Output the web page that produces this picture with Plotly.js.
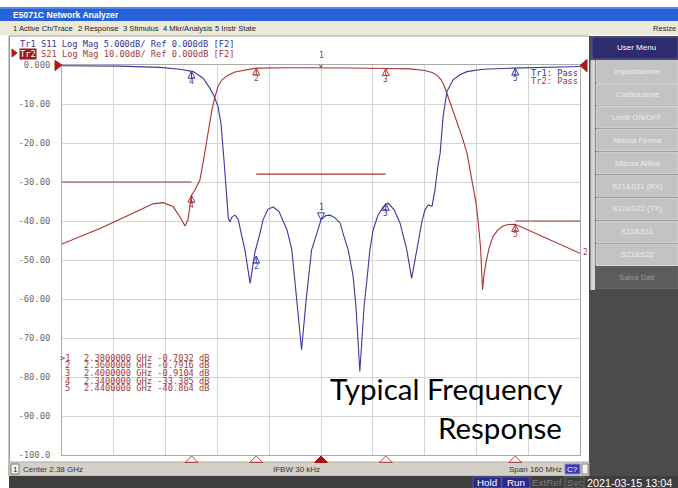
<!DOCTYPE html>
<html><head><meta charset="utf-8">
<script src="https://cdn.plot.ly/plotly-3.0.1.min.js"></script>
<style>html,body{margin:0;padding:0;background:#fff;overflow:hidden}#chart{width:678px;height:488px}</style>
</head><body><div id="chart"></div>
<script>
// ---------------- data ----------------
const freqS21 = [2.3000,2.3117,2.3219,2.3281,2.3312,2.3343,2.3364,2.3380,2.3389,2.3400,2.3411,2.3426,2.3439,2.3451,2.3463,2.3473,2.3482,2.3494,2.3513,2.3534,2.3571,2.3600,2.3704,2.3800,2.3890,2.4000,2.4075,2.4121,2.4143,2.4158,2.4171,2.4180,2.4192,2.4205,2.4220,2.4236,2.4251,2.4270,2.4279,2.4285,2.4293,2.4299,2.4303,2.4310,2.4319,2.4331,2.4347,2.4362,2.4378,2.4400,2.4600];
const s21dB   = [-45.9,-41.9,-38.0,-35.6,-35.3,-36.3,-38.9,-41.3,-39.7,-33.4,-32.0,-29.5,-23.5,-17.5,-11.5,-8.0,-5.5,-3.8,-2.6,-1.8,-1.2,-0.79,-0.72,-0.70,-0.76,-0.91,-1.0,-1.4,-1.9,-2.6,-3.8,-5.2,-8.0,-11.0,-14.5,-18.5,-22.6,-31.0,-35.5,-39.7,-47.0,-57.7,-54.0,-50.5,-47.0,-44.0,-42.2,-41.3,-40.9,-40.86,-48.3];
const freqS11 = [2.3000,2.3179,2.3303,2.3364,2.3405,2.3436,2.3457,2.3470,2.3482,2.3491,2.3500,2.3508,2.3514,2.3519,2.3525,2.3534,2.3544,2.3553,2.3565,2.3581,2.3596,2.3612,2.3621,2.3636,2.3652,2.3670,2.3695,2.3710,2.3725,2.3740,2.3754,2.3771,2.3788,2.3800,2.3815,2.3828,2.3843,2.3859,2.3871,2.3884,2.3899,2.3908,2.3920,2.3933,2.3942,2.3951,2.3961,2.3976,2.3992,2.4007,2.4025,2.4044,2.4065,2.4080,2.4096,2.4112,2.4121,2.4131,2.4143,2.4152,2.4161,2.4168,2.4177,2.4189,2.4208,2.4229,2.4251,2.4300,2.4393,2.4600];
const s11dB   = [-0.10,-0.15,-0.30,-0.55,-0.85,-1.7,-3.0,-4.0,-5.35,-7.5,-12.0,-16.5,-19.75,-20.1,-19.5,-19.25,-19.75,-21.5,-23.7,-28.0,-24.0,-21.5,-19.85,-18.5,-18.2,-18.75,-21.15,-23.7,-30.15,-36.5,-30.15,-23.7,-21.5,-19.85,-19.3,-19.25,-19.6,-20.25,-22.0,-23.7,-27.0,-31.0,-39.3,-31.0,-27.5,-23.7,-21.15,-19.25,-18.2,-17.7,-18.5,-20.25,-23.7,-27.35,-23.7,-20.0,-18.6,-17.95,-18.1,-16.0,-13.0,-11.3,-6.65,-3.4,-1.9,-1.25,-0.85,-0.55,-0.4,-0.2];
const markerIds   = ['1','2','3','4','5'];
const markerFreq  = [2.38,2.36,2.40,2.34,2.44];
const markerS21   = [-0.7032,-0.7916,-0.9104,-33.385,-40.864];
const markerS11   = [-19.85,-24.5,-17.75,-0.8,-0.4];
const limitStart  = [2.30,2.36,2.44];
const limitStop   = [2.34,2.40,2.46];
const limitLevel  = [-30,-28,-40];
const xGridVals   = [2.30,2.316,2.332,2.348,2.364,2.38,2.396,2.412,2.428,2.444,2.46];
const yTickVals   = [0,-10,-20,-30,-40,-50,-60,-70,-80,-90,-100];
const yTickText   = ['0.000','-10.00','-20.00','-30.00','-40.00','-50.00','-60.00','-70.00','-80.00','-90.00','-100.0'];
const menuItems   = ['1 Active Ch/Trace','2 Response','3 Stimulus','4 Mkr/Analysis','5 Instr State'];
const softKeys    = ['Impostazione','Calibrazione','Limiti ON/OFF','Misura Ferma','Misura Attiva','S21&amp;S11 (RX)','S12&amp;S22 (TX)','S12&amp;S11','S21&amp;S22','Salva Dati'];

// ---------------- styling / geometry ----------------
const RED='#a83434', BLUE='#3a3a9e', RTXT='#a33a3a', BTXT='#34349a';
const L=62, R=580, TOP=65, BOT=455;
const px = x => (x-L)/(R-L);
const py = y => (BOT-y)/(BOT-TOP);
const MONO='DejaVu Sans Mono', SANS='Liberation Sans';
const shapes=[], ann=[];
function rect(x0,y0,x1,y1,fill,lc,lw){shapes.push({type:'rect',xref:'paper',yref:'paper',x0:px(x0),x1:px(x1),y0:py(y1),y1:py(y0),fillcolor:fill,line:{color:lc||fill,width:lw||0},layer:'above'});}
function poly(pts,fill,lc){let d=pts.map((p,i)=>(i?'L':'M')+px(p[0])+','+py(p[1])).join(' ')+' Z';shapes.push({type:'path',xref:'paper',yref:'paper',path:d,fillcolor:fill,line:{color:lc||fill,width:1},layer:'above'});}
function txt(t,x,y,o){o=o||{};ann.push({xref:'paper',yref:'paper',x:px(x),y:py(y),text:t,showarrow:false,xanchor:o.xa||'left',yanchor:o.ya||'middle',borderpad:o.pad||0,bgcolor:o.bg||'rgba(0,0,0,0)',font:{family:o.family||SANS,size:o.size||8,color:o.color||'#000',weight:o.weight||'normal'}});}

// window chrome
rect(0,7,678,21,'#2762d6');
rect(0,7,678,9,'#4f86ee');
txt('E5071C Network Analyzer',12,14.5,{size:8.6,color:'#fff',weight:'bold'});
rect(0,21,678,35,'#ece9d8');
const menuX=[12,77,122,162,214];
menuItems.forEach((m,i)=>txt(m,menuX[i],28.5,{size:7.6,color:'#222'}));
txt('Resize',677,28.5,{size:7.6,color:'#222',xa:'right'});
rect(9,35.5,589,36.5,'#9a9a9a');
rect(8.5,36,10,476,'#9a9a9a');
// right soft-key panel
rect(589,36,678,476,'#4b4b4b');
rect(592,37,678,59,'#2c2c6e','#5a5a90',1);
txt('User Menu',636,48,{size:8,color:'#fff',xa:'center'});
rect(590.5,60,595,290,'#d4d4d4');
softKeys.forEach((k,i)=>{
  const y0=60.7+i*22.9, y1=y0+21.6;
  const last=i===softKeys.length-1;
  rect(596,y0,678,y1,last?'#5c5c5c':'#c3c3c3',last?'#6a6a6a':'#d8d8d8',1);
  txt(k,637,(y0+y1)/2,{size:7.8,color:last?'#9a9a9a':'#ececec',xa:'center'});
});
// status bar
rect(9,462,589,476,'#d4d0c8','#b0ab9f',1);
rect(11,464,19,474,'#f4f4f4','#777',1);
txt('1',15,469,{size:8,color:'#222',xa:'center'});
txt('Center 2.38 GHz',22,469,{size:8,color:'#333'});
txt('IFBW 30 kHz',272,469,{size:8,color:'#333'});
txt('Span 160 MHz',508,469,{size:8,color:'#333'});
rect(565,464,580,474,'#3c3caa','#8888cc',1);
txt('C?',572.5,469,{size:8,color:'#fff',xa:'center'});
rect(582,464,588,474,'#f4f4f4','#888',1);
// bottom bar
rect(9,476,678,488,'#3e3e3e');
rect(473,477,501,488,'#2a2a8c','#5555aa',1);
txt('Hold',487,482.5,{size:9.8,color:'#fff',xa:'center'});
rect(502,477,530,488,'#2a2a8c','#5555aa',1);
txt('Run',516,482.5,{size:9.8,color:'#fff',xa:'center'});
txt('ExtRef',547,482.5,{size:9.8,color:'#7a7a7a',xa:'center'});
rect(565,477,584,488,'#3e3e3e','#666',1);
txt('Svc',574.5,482.5,{size:9.8,color:'#7a7a7a',xa:'center'});
txt('2021-03-15 13:04',586,482.5,{size:10.8,color:'#fff'});

// trace header
txt('Tr1 S11 Log Mag 5.000dB/ Ref 0.000dB [F2]',19,44.5,{family:MONO,size:8.7,color:BTXT});
poly([[12,49],[17,53],[12,57]],'#b01818');
txt('Tr2',19,53.5,{family:MONO,size:8.7,color:'#fff',bg:'#9a1c1c'});
txt('S21 Log Mag 10.00dB/ Ref 0.000dB [F2]',40,53.5,{family:MONO,size:8.7,color:RTXT});
// reference triangles
poly([[55,60.5],[62,65],[55,70.5]],'#b01818');
poly([[587,59.5],[580,65.5],[587,72]],'#b01818');
txt('Tr1: Pass',530,72.5,{family:MONO,size:8.7,color:BTXT});
txt('Tr2: Pass',530,81.5,{family:MONO,size:8.7,color:RTXT});
txt('2',582,252.5,{family:MONO,size:8,color:RTXT});

// marker table
markerIds.forEach((id,i)=>{
  const y=357.7+i*7.65;
  const v=markerS21[i], vs=(Math.abs(v)<1?v.toFixed(4):v.toFixed(3));
  txt((i===0?'&gt;':'')+id,71,y,{family:MONO,size:8.7,color:RTXT,xa:'right'});
  txt(markerFreq[i].toFixed(7)+' GHz '+vs+' dB',83,y,{family:MONO,size:8.7,color:RTXT});
});

// big overlay caption
txt('Typical Frequency',563,388,{family:'Lato',size:29.5,color:'#000',xa:'right'});
txt('Response',563,427,{family:'Lato',size:29.5,color:'#000',xa:'right'});

// markers on traces (pixel-sized glyphs anchored at data values)
function mark(f,v,yref,col,id,active){
  if(active){
    shapes.push({type:'path',xref:'x',yref:yref,xsizemode:'pixel',ysizemode:'pixel',xanchor:f,yanchor:v,path:'M0,0 L-3.5,7 L3.5,7 Z',fillcolor:'rgba(255,255,255,0)',line:{color:col,width:1}});
    ann.push({xref:'x',yref:yref,x:f,y:v,yshift:7,text:id,showarrow:false,xanchor:'center',yanchor:'bottom',borderpad:0,font:{family:MONO,size:8,color:col}});
  } else {
    shapes.push({type:'path',xref:'x',yref:yref,xsizemode:'pixel',ysizemode:'pixel',xanchor:f,yanchor:v,path:'M0,0 L-3.5,-7 L3.5,-7 Z M0,0 L0,-7',fillcolor:'rgba(255,255,255,0)',line:{color:col,width:1}});
    ann.push({xref:'x',yref:yref,x:f,y:v,yshift:-5,text:id,showarrow:false,xanchor:'center',yanchor:'top',borderpad:0,font:{family:MONO,size:8,color:col}});
  }
}
markerIds.forEach((id,i)=>{
  mark(markerFreq[i],markerS21[i],'y',RED,id,i===0);
  mark(markerFreq[i],markerS11[i],'y2',BLUE,id,i===0);
  // stimulus markers under the grid
  shapes.push({type:'path',xref:'x',yref:'paper',xsizemode:'pixel',ysizemode:'pixel',xanchor:markerFreq[i],yanchor:0,path:'M0,-1 L-6.5,-7.5 L6.5,-7.5 Z',fillcolor:i===0?'#a81010':'rgba(255,255,255,0)',line:{color:i===0?'#a81010':'#b04848',width:1}});
});

// limit lines from segments
const limX=[], limY=[];
limitLevel.forEach((lv,i)=>{limX.push(limitStart[i],limitStop[i],null);limY.push(lv,lv,null);});

const traces=[
  {x:freqS11,y:s11dB,yaxis:'y2',type:'scatter',mode:'lines',line:{color:BLUE,width:1.1},hoverinfo:'skip'},
  {x:limX,y:limY,type:'scatter',mode:'lines',line:{color:RED,width:1.2},hoverinfo:'skip'},
  {x:freqS21,y:s21dB,type:'scatter',mode:'lines',line:{color:RED,width:1.1},hoverinfo:'skip'}
];
const layout={
  width:678,height:488,margin:{l:62,r:98,t:65,b:33},
  paper_bgcolor:'#fff',plot_bgcolor:'#fff',showlegend:false,
  font:{family:MONO,size:9,color:'#666'},
  xaxis:{range:[2.30,2.46],tickvals:xGridVals,showticklabels:false,showgrid:true,gridcolor:'#d4d4d4',gridwidth:1,zeroline:false,showline:true,linecolor:'#aaaaaa',linewidth:1,mirror:true,ticks:''},
  yaxis:{range:[-100,0],tickvals:yTickVals,ticktext:yTickText,showgrid:true,gridcolor:'#d4d4d4',gridwidth:1,zeroline:false,showline:true,linecolor:'#aaaaaa',linewidth:1,mirror:true,ticks:'',ticklabelstandoff:9,tickfont:{family:MONO,size:8.8,color:'#6a6a6a'}},
  yaxis2:{range:[-50,0],overlaying:'y',visible:false,showgrid:false,zeroline:false},
  shapes:shapes,annotations:ann
};
Plotly.newPlot('chart',traces,layout,{staticPlot:true,displayModeBar:false});
</script></body></html>
